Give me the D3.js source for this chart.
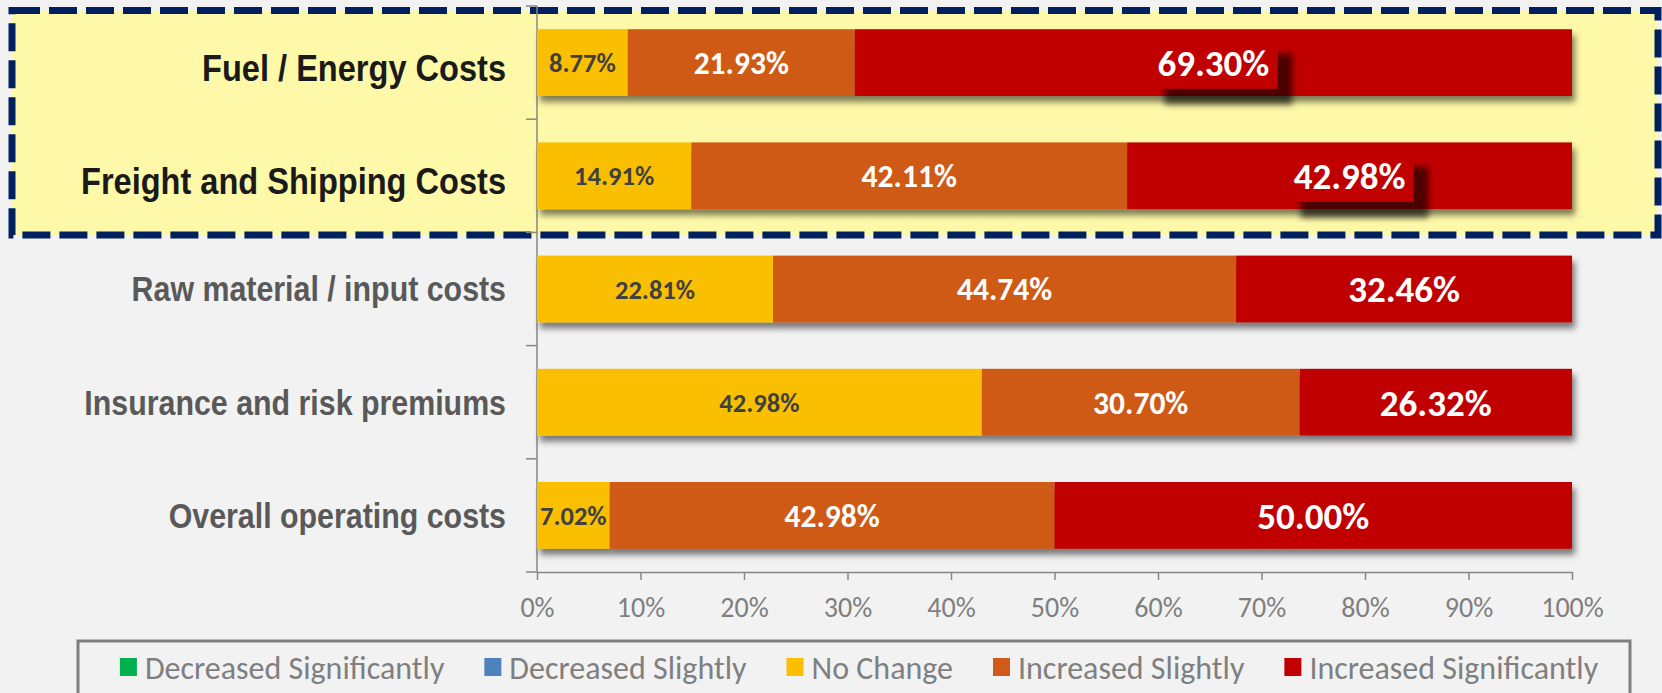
<!DOCTYPE html>
<html>
<head>
<meta charset="utf-8">
<script src="https://cdn.jsdelivr.net/npm/d3@7"></script>
<style>
  body { margin: 0; background: #F2F2F2; }
  svg { display: block; }
</style>
</head>
<body>
<div id="chart"></div>
<script>
const categories = [
    "Fuel / Energy Costs",
    "Freight and Shipping Costs",
    "Raw material / input costs",
    "Insurance and risk premiums",
    "Overall operating costs"
];
const seriesNames = ["Decreased Significantly", "Decreased Slightly", "No Change", "Increased Slightly", "Increased Significantly"];
const decreasedSignificantly = [0, 0, 0, 0, 0];
const decreasedSlightly = [0, 0, 0, 0, 0];
const noChange = [8.77, 14.91, 22.81, 42.98, 7.02];
const increasedSlightly = [21.93, 42.11, 44.74, 30.70, 42.98];
const increasedSignificantly = [69.30, 42.98, 32.46, 26.32, 50.00];
const xTicks = [0, 10, 20, 30, 40, 50, 60, 70, 80, 90, 100];
const highlighted = ["Fuel / Energy Costs", "Freight and Shipping Costs"];

const colors = ["#00B050", "#4F81BD", "#F9BF00", "#CF5A19", "#C00000"];
const labelSize = [26, 26, 26.5, 31.5, 37];
const labelColor = ["#404040", "#404040", "#404040", "#ffffff", "#ffffff"];

const width = 1662, height = 693;
const calibri = "Carlito, Lato, sans-serif";

// build rows for d3.stack
const allSeries = [decreasedSignificantly, decreasedSlightly, noChange, increasedSlightly, increasedSignificantly];
const rows = categories.map((c, i) => {
    const r = { category: c };
    seriesNames.forEach((s, k) => { r[s] = allSeries[k][i]; });
    return r;
});
const stacked = d3.stack().keys(seriesNames)(rows);

const svg = d3.select("#chart").append("svg")
    .attr("width", width)
    .attr("height", height);

const defs = svg.append("defs");
defs.append("filter")
    .attr("id", "barShadow")
    .attr("x", "-5%").attr("y", "-20%").attr("width", "110%").attr("height", "150%")
    .append("feDropShadow")
    .attr("dx", 3).attr("dy", 6)
    .attr("stdDeviation", 3)
    .attr("flood-color", "#000")
    .attr("flood-opacity", 0.5);
defs.append("filter")
    .attr("id", "labelShadow")
    .attr("x", "-20%").attr("y", "-30%").attr("width", "150%").attr("height", "180%")
    .append("feDropShadow")
    .attr("dx", 15).attr("dy", 16)
    .attr("stdDeviation", 3)
    .attr("flood-color", "#000")
    .attr("flood-opacity", 0.6);

svg.append("rect")
    .attr("width", width).attr("height", height)
    .attr("fill", "#F2F2F2");

const x = d3.scaleLinear()
    .domain([0, 100])
    .range([537, 1572]);

const y = d3.scaleBand()
    .domain(categories)
    .range([6, 572])
    .paddingInner(0.41)
    .paddingOuter(0.205);

// highlight box around the first two categories
const hlTop = y(highlighted[0]) - (y.step() - y.bandwidth()) / 2;
const hlBottom = y(highlighted[highlighted.length - 1]) + y.bandwidth() + (y.step() - y.bandwidth()) / 2;
svg.append("rect")
    .attr("x", 12)
    .attr("y", hlTop + 4.5)
    .attr("width", 1646)
    .attr("height", hlBottom - hlTop - 2)
    .attr("fill", "#FEF9A8")
    .attr("stroke", "#002060")
    .attr("stroke-width", 7)
    .attr("stroke-dasharray", "28 9");

// category axis
const axisColor = "#868686";
const boundaries = categories.map(c => y(c) - (y.step() - y.bandwidth()) / 2);
boundaries.push(y.range()[1]);

svg.append("line")
    .attr("x1", x(0)).attr("x2", x(0))
    .attr("y1", y.range()[0]).attr("y2", y.range()[1])
    .attr("stroke", axisColor)
    .attr("stroke-width", 1.5);

svg.selectAll(".ytick")
    .data(boundaries)
    .join("line")
    .attr("class", "ytick")
    .attr("x1", x(0) - 11).attr("x2", x(0))
    .attr("y1", d => d).attr("y2", d => d)
    .attr("stroke", axisColor)
    .attr("stroke-width", 1.5);

// value axis
const xAxis = svg.append("g")
    .attr("transform", `translate(0, ${y.range()[1]})`)
    .call(d3.axisBottom(x)
        .tickValues(xTicks)
        .tickFormat(d => d + "%")
        .tickSize(8)
        .tickSizeOuter(0)
        .tickPadding(17));
xAxis.select(".domain").attr("stroke", axisColor).attr("stroke-width", 1.5);
xAxis.selectAll(".tick line").attr("stroke", axisColor).attr("stroke-width", 1.5);
xAxis.selectAll(".tick text")
    .attr("fill", "#7F7F7F")
    .style("font-family", calibri)
    .style("font-size", "28px");

// category labels
svg.selectAll(".catLabel")
    .data(categories)
    .join("text")
    .attr("class", "catLabel")
    .attr("text-anchor", "end")
    .attr("transform", d => {
        const hl = highlighted.includes(d);
        const size = hl ? 37 : 34.5;
        const base = y(d) + y.bandwidth() / 2 + size * 0.716 / 2 + (hl ? 5 : 0);
        return `translate(506, ${base}) scale(0.88, 1)`;
    })
    .attr("fill", d => highlighted.includes(d) ? "#1A1A1A" : "#595959")
    .style("font-family", "'Liberation Sans', Arial, sans-serif")
    .style("font-weight", "bold")
    .style("font-size", d => (highlighted.includes(d) ? 37 : 34.5) + "px")
    .text(d => d);

// bars
const barGroups = svg.selectAll(".bar")
    .data(categories)
    .join("g")
    .attr("class", "bar")
    .attr("filter", "url(#barShadow)");

barGroups.each(function(cat, i) {
    const g = d3.select(this);
    stacked.forEach((layer, k) => {
        const seg = layer[i];
        if (seg[1] - seg[0] <= 0) return;
        g.append("rect")
            .attr("x", x(seg[0]))
            .attr("y", y(cat))
            .attr("width", x(seg[1]) - x(seg[0]))
            .attr("height", y.bandwidth())
            .attr("fill", colors[k]);
    });
});

// data labels
stacked.forEach((layer, k) => {
    layer.forEach((seg, i) => {
        const value = seg[1] - seg[0];
        if (value <= 0) return;
        const cat = categories[i];
        const cx = x((seg[0] + seg[1]) / 2);
        const cy = y(cat) + y.bandwidth() / 2;
        const g = svg.append("g");
        const t = g.append("text")
            .attr("x", cx)
            .attr("y", cy + labelSize[k] * 0.36)
            .attr("text-anchor", "middle")
            .attr("fill", labelColor[k])
            .style("font-family", calibri)
            .style("font-weight", "bold")
            .style("font-size", labelSize[k] + "px")
            .text(value.toFixed(2) + "%");
        if (k === seriesNames.length - 1 && highlighted.includes(cat)) {
            const w = t.node().getComputedTextLength();
            g.insert("rect", "text")
                .attr("x", cx - w / 2 - 8)
                .attr("y", cy - 25)
                .attr("width", w + 16)
                .attr("height", 51)
                .attr("fill", colors[k])
                .attr("filter", "url(#labelShadow)");
        }
    });
});

// legend
const legend = svg.append("g");
legend.append("rect")
    .attr("x", 78)
    .attr("y", 641)
    .attr("width", 1552)
    .attr("height", 80)
    .attr("fill", "#F2F2F2")
    .attr("stroke", "#7F7F7F")
    .attr("stroke-width", 3);

const items = legend.selectAll(".legItem")
    .data(seriesNames)
    .join("g")
    .attr("class", "legItem");
items.append("rect")
    .attr("width", 17)
    .attr("height", 18)
    .attr("y", 658)
    .attr("fill", (d, i) => colors[i]);
items.append("text")
    .attr("x", 25)
    .attr("y", 679)
    .attr("fill", "#7F7F7F")
    .style("font-family", calibri)
    .style("font-size", "32px")
    .text(d => d);

let widths = [];
items.each(function() {
    widths.push(this.querySelector("text").getComputedTextLength() + 25);
});
const gap = 40;
const total = d3.sum(widths) + gap * (widths.length - 1);
let cursor = 859 - total / 2;
items.attr("transform", (d, i) => {
    const tx = cursor;
    cursor += widths[i] + gap;
    return `translate(${tx}, 0)`;
});
</script>
</body>
</html>
